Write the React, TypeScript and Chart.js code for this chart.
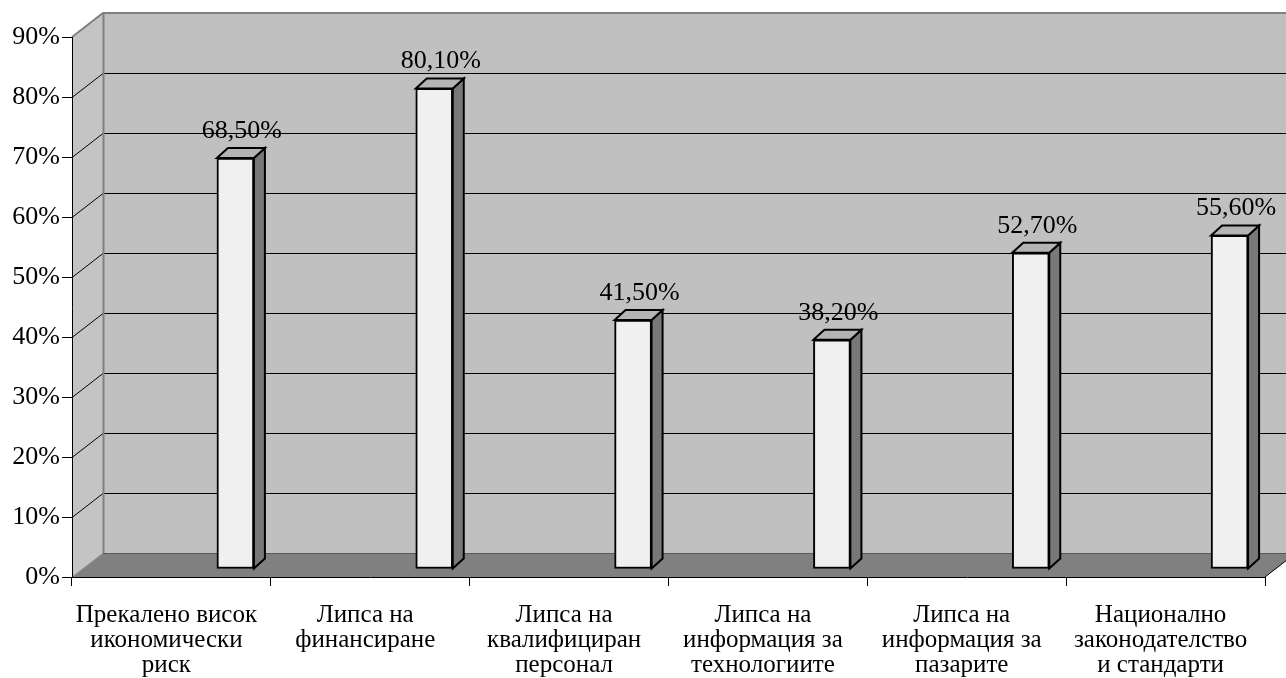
import React, { useEffect, useRef } from "react";
import { Chart, registerables } from "chart.js";

Chart.register(...registerables);

// ---- data ----
const categories: string[][] = [
  ["Прекалено висок", "икономически", "риск"],
  ["Липса на", "финансиране"],
  ["Липса на", "квалифициран", "персонал"],
  ["Липса на", "информация за", "технологиите"],
  ["Липса на", "информация за", "пазарите"],
  ["Национално", "законодателство", "и стандарти"],
];
const values: number[] = [68.5, 80.1, 41.5, 38.2, 52.7, 55.6];
const yMin = 0;
const yMax = 90;
const yStep = 10;

// ---- style / geometry ----
const FONT = "'Liberation Serif', 'Times New Roman', serif";
const WALL_DX = 31;
const WALL_DY = -24;
const BAR_DX = 64;
const BAR_DY = -8;
const BAR_DEPTH_X = 11;
const BAR_DEPTH_Y = -10;

const fmt = (v: number) => v.toFixed(2).replace(".", ",") + "%";

const walls3d = {
  id: "walls3d",
  beforeDraw(chart: any) {
    const { ctx, chartArea } = chart;
    const y = chart.scales.y;
    const L = chartArea.left;
    const R = chartArea.right;
    const T = chartArea.top;
    const B = chartArea.bottom;
    ctx.save();
    // back wall
    ctx.fillStyle = "#c0c0c0";
    ctx.fillRect(L + WALL_DX, T + WALL_DY, R - L + 40, B - T);
    // left wall
    ctx.fillStyle = "#c4c4c4";
    ctx.beginPath();
    ctx.moveTo(L, B);
    ctx.lineTo(L, T);
    ctx.lineTo(L + WALL_DX, T + WALL_DY);
    ctx.lineTo(L + WALL_DX, B + WALL_DY);
    ctx.closePath();
    ctx.fill();
    // gridlines
    ctx.lineWidth = 1;
    ctx.strokeStyle = "#000";
    for (let v = yMin + yStep; v < yMax; v += yStep) {
      const py = Math.round(y.getPixelForValue(v)) + 0.5;
      ctx.beginPath();
      ctx.moveTo(L, py);
      ctx.lineTo(L + WALL_DX, py + WALL_DY);
      ctx.lineTo(chart.width + 10, py + WALL_DY);
      ctx.stroke();
    }
    // floor
    ctx.fillStyle = "#808080";
    ctx.beginPath();
    ctx.moveTo(L, B);
    ctx.lineTo(L + WALL_DX, B + WALL_DY);
    ctx.lineTo(R + WALL_DX, B + WALL_DY);
    ctx.lineTo(R, B);
    ctx.closePath();
    ctx.fill();
    // floor back edge
    ctx.strokeStyle = "#5a5a5a";
    ctx.beginPath();
    ctx.moveTo(L + WALL_DX, B + WALL_DY + 0.5);
    ctx.lineTo(R + WALL_DX + 10, B + WALL_DY + 0.5);
    ctx.stroke();
    // floor right edge
    ctx.strokeStyle = "#000";
    ctx.beginPath();
    ctx.moveTo(R, B);
    ctx.lineTo(R + WALL_DX, B + WALL_DY);
    ctx.stroke();
    // wall outlines
    ctx.strokeStyle = "#808080";
    ctx.lineWidth = 2;
    ctx.beginPath();
    ctx.moveTo(L, T);
    ctx.lineTo(L + WALL_DX, T + WALL_DY);
    ctx.lineTo(chart.width + 10, T + WALL_DY);
    ctx.moveTo(L + WALL_DX + 0.5, T + WALL_DY);
    ctx.lineTo(L + WALL_DX + 0.5, B + WALL_DY);
    ctx.stroke();
    ctx.lineWidth = 1;
    ctx.strokeStyle = "#9a9a9a";
    ctx.beginPath();
    ctx.moveTo(L, B);
    ctx.lineTo(L + WALL_DX, B + WALL_DY);
    ctx.stroke();
    ctx.restore();
  },
  beforeDatasetDraw(chart: any) {
    chart.ctx.save();
    chart.ctx.translate(BAR_DX, BAR_DY);
  },
  afterDatasetDraw(chart: any, args: any) {
    const { ctx } = chart;
    const meta = args.meta;
    meta.data.forEach((bar: any) => {
      const { x, y, base, width } = bar.getProps(["x", "y", "base", "width"], true);
      const l = x - width / 2;
      const r = x + width / 2;
      ctx.lineWidth = 2;
      ctx.lineJoin = "miter";
      ctx.strokeStyle = "#000";
      // side face
      ctx.fillStyle = "#787878";
      ctx.beginPath();
      ctx.moveTo(r, base);
      ctx.lineTo(r, y);
      ctx.lineTo(r + BAR_DEPTH_X, y + BAR_DEPTH_Y);
      ctx.lineTo(r + BAR_DEPTH_X, base + BAR_DEPTH_Y);
      ctx.closePath();
      ctx.fill();
      ctx.stroke();
      // top face
      ctx.fillStyle = "#b4b4b4";
      ctx.beginPath();
      ctx.moveTo(l, y);
      ctx.lineTo(r, y);
      ctx.lineTo(r + BAR_DEPTH_X, y + BAR_DEPTH_Y);
      ctx.lineTo(l + BAR_DEPTH_X, y + BAR_DEPTH_Y);
      ctx.closePath();
      ctx.fill();
      ctx.stroke();
    });
    ctx.restore();
  },
  afterDatasetsDraw(chart: any) {
    const { ctx } = chart;
    const meta = chart.getDatasetMeta(0);
    ctx.save();
    ctx.font = `26px ${FONT}`;
    ctx.fillStyle = "#000";
    ctx.textAlign = "center";
    ctx.textBaseline = "alphabetic";
    meta.data.forEach((bar: any, i: number) => {
      const { x, y } = bar.getProps(["x", "y"], true);
      ctx.fillText(fmt(values[i]), x + BAR_DX + 6.5, y + BAR_DY - 20);
    });
    ctx.restore();
  },
};

export default function App() {
  const ref = useRef<HTMLCanvasElement | null>(null);
  useEffect(() => {
    if (!ref.current) return;
    const chart = new Chart(ref.current, {
      type: "bar",
      data: {
        labels: categories,
        datasets: [
          {
            data: values,
            backgroundColor: "#f0f0f0",
            borderColor: "#000",
            borderWidth: 2,
            borderSkipped: false,
            barThickness: 37,
            clip: false as any,
          },
        ],
      },
      options: {
        animation: false,
        responsive: false,
        maintainAspectRatio: false,
        layout: { padding: { top: 37, right: 21, left: 0, bottom: 0 } },
        plugins: {
          legend: { display: false },
          tooltip: { enabled: false },
          title: { display: false },
        },
        scales: {
          x: {
            offset: true,
            grid: {
              offset: true,
              drawOnChartArea: false,
              drawTicks: true,
              tickLength: 9,
              tickColor: "#000",
              tickWidth: 1,
            },
            border: { display: true, color: "#000", width: 1 },
            ticks: {
              color: "#000",
              font: { family: FONT, size: 25, lineHeight: 1.0 },
              padding: 17,
              labelOffset: -5,
              maxRotation: 0,
              autoSkip: false,
            },
            afterFit: (s: any) => {
              s.height = 101;
            },
          },
          y: {
            min: yMin,
            max: yMax,
            grid: {
              drawOnChartArea: false,
              drawTicks: true,
              tickLength: 10,
              tickColor: "#000",
              tickWidth: 1,
            },
            border: { display: true, color: "#000", width: 1 },
            ticks: {
              stepSize: yStep,
              color: "#000",
              font: { family: FONT, size: 26 },
              padding: 2,
              callback: (v: any) => v + "%",
            },
            afterFit: (s: any) => {
              s.width = 72;
            },
          },
        },
      },
      plugins: [walls3d],
    });
    return () => chart.destroy();
  }, []);
  return (
    <div style={{ position: "absolute", left: 0, top: 0, width: 1286, height: 678, background: "#fff" }}>
      <canvas ref={ref} width={1286} height={678} style={{ display: "block" }} />
    </div>
  );
}
